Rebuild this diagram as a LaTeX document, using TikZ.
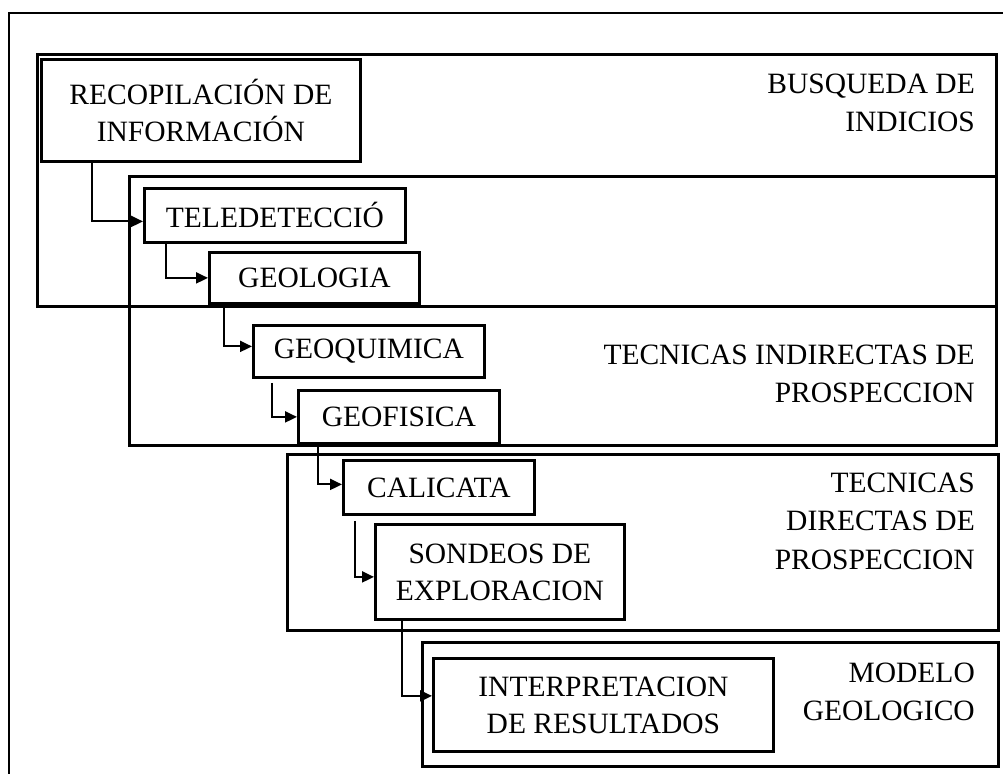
\documentclass[tikz,border=0pt]{standalone}
\usepackage{fontspec}
\setmainfont{Liberation Serif}
\usetikzlibrary{arrows.meta,calc}
\begin{document}
\begin{tikzpicture}[x=1pt,y=-1pt,
  region/.style={draw, line width=2.8pt, inner sep=0pt, anchor=north west},
  stepbox/.style={draw, line width=2.8pt, fill=white, align=center, inner sep=0pt, anchor=north west,
    font=\fontsize{29.5}{37}\selectfont},
  lbl/.style={align=right, anchor=east, inner sep=0pt, font=\fontsize{29.5}{38.5}\selectfont},
  arr/.style={line width=2.1pt, -{Triangle[length=12pt,width=11pt]}}]
\useasboundingbox (0,0) rectangle (1003,773);
\draw[line width=1.4pt] (9,800) -- (9,13) -- (1010,13);
% regions
\node[region, minimum width=959pt, minimum height=252pt] (r1) at (36,53) {};
\node[region, minimum width=867pt, minimum height=269pt] (r2) at (128,175) {};
\node[region, minimum width=711pt, minimum height=176pt] (r3) at (286,453) {};
\node[region, minimum width=576pt, minimum height=124pt] (r4) at (421,641) {};
% region labels
\node[lbl] (l1) at (975,103) {BUSQUEDA DE\\INDICIOS};
\node[lbl] (l2) at (975,374) {TECNICAS INDIRECTAS DE\\PROSPECCION};
\node[lbl] (l3) at (975,521) {TECNICAS\\DIRECTAS DE\\PROSPECCION};
\node[lbl] (l4) at (975,692) {MODELO\\GEOLOGICO};
% steps
\node[stepbox, minimum width=319pt, minimum height=102pt] (recop) at (40,58) {RECOPILACIÓN DE\\INFORMACIÓN};
\node[stepbox, minimum width=261pt, minimum height=54pt] (tele) at (143,187) {TELEDETECCIÓ};
\node[stepbox, minimum width=210pt, minimum height=51pt] (geol) at (208,251) {GEOLOGIA};
\node[stepbox, minimum width=231pt, minimum height=52pt] (geoq) at (252,324) {GEOQUIMICA};
\node[stepbox, minimum width=201pt, minimum height=53pt] (geof) at (297,389) {GEOFISICA};
\node[stepbox, minimum width=191pt, minimum height=54pt] (cali) at (342,459) {CALICATA};
\node[stepbox, minimum width=249pt, minimum height=95pt] (sond) at (374,523) {SONDEOS DE\\EXPLORACION};
\node[stepbox, minimum width=340pt, minimum height=93pt] (interp) at (432,657) {INTERPRETACION\\DE RESULTADOS};
% connectors
\draw[arr] ($(recop.south west)+(52,0)$) |- ([yshift=-6pt]tele.west);
\draw[arr] ($(tele.south west)+(23,0)$) |- (geol.west);
\draw[arr] ($(geol.south west)+(16,0)$) |- ([yshift=5pt]geoq.west);
\draw[arr] ($(geoq.south west)+(20,4)$) |- (geof.west);
\draw[arr] ($(geof.south west)+(21,0)$) |- ([yshift=3pt]cali.west);
\draw[arr] ($(cali.south west)+(13,5)$) |- ([yshift=-5pt]sond.west);
\draw[arr] ($(sond.south west)+(28,0)$) |- ([yshift=9pt]interp.west);
\end{tikzpicture}
\end{document}
